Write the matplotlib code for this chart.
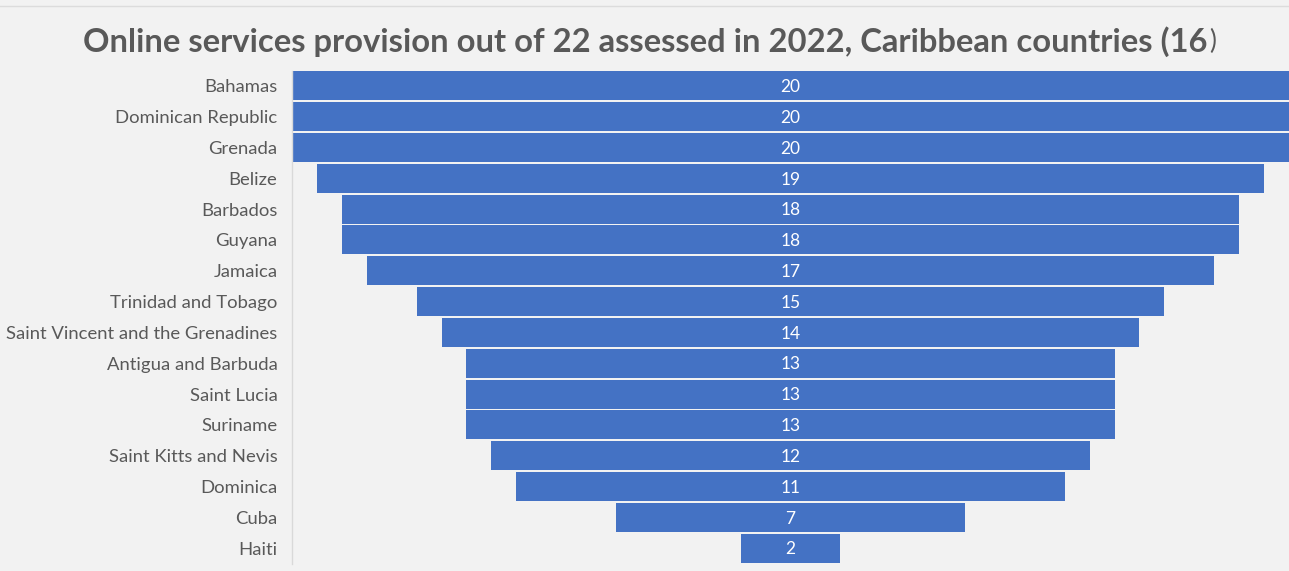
import matplotlib
matplotlib.use("Agg")
import matplotlib.pyplot as plt
from matplotlib.lines import Line2D

countries = ["Bahamas", "Dominican Republic", "Grenada", "Belize", "Barbados",
             "Guyana", "Jamaica", "Trinidad and Tobago",
             "Saint Vincent and the Grenadines", "Antigua and Barbuda",
             "Saint Lucia", "Suriname", "Saint Kitts and Nevis", "Dominica",
             "Cuba", "Haiti"]
services = [20, 20, 20, 19, 18, 18, 17, 15, 14, 13, 13, 13, 12, 11, 7, 2]

BG = "#f2f2f2"
BAR = "#4472c4"
TXT = "#595959"

plt.rcParams["font.family"] = ["Lato", "DejaVu Sans"]

fig = plt.figure(figsize=(12.89, 5.71), dpi=100, facecolor=BG)
ax = fig.add_axes([292 / 1289, 1 - 563.5 / 571, 1 - 292 / 1289, (563.5 - 70.5) / 571])
ax.set_facecolor(BG)

ypos = list(range(len(countries)))
lefts = [-v / 2 for v in services]
ax.barh(ypos, services, left=lefts, height=0.94, color=BAR, edgecolor="none")
for y, v in zip(ypos, services):
    ax.text(0, y + 0.04, str(v), ha="center", va="center", color="white", fontsize=12.5)

ax.set_xlim(-10, 10)
ax.set_ylim(len(countries) - 0.5, -0.5)
ax.set_yticks(ypos)
ax.set_yticklabels(countries, fontsize=13.3, color=TXT)
ax.tick_params(axis="y", length=0, pad=10.5)
ax.set_xticks([])
for side in ["top", "right", "bottom"]:
    ax.spines[side].set_visible(False)
ax.spines["left"].set_color("#d9d9d9")
ax.spines["left"].set_linewidth(1)

# Title: bold main part followed by a regular-weight closing parenthesis
title_y = 1 - 41.5 / 571
main = fig.text(83 / 1289, title_y,
                "Online services provision out of 22 assessed in 2022, Caribbean countries (16",
                ha="left", va="center", fontsize=23.6, fontweight="bold", color=TXT)
fig.canvas.draw()
bb = main.get_window_extent()
fig.text(bb.x1 / fig.bbox.width + 0.001, title_y, ")", ha="left", va="center",
         fontsize=19, fontweight="normal", color=TXT)

fig.add_artist(Line2D([0, 1], [1 - 6 / 571, 1 - 6 / 571], color="#dcdcdc", lw=1))

fig.savefig("out.png", dpi=100, facecolor=BG)
